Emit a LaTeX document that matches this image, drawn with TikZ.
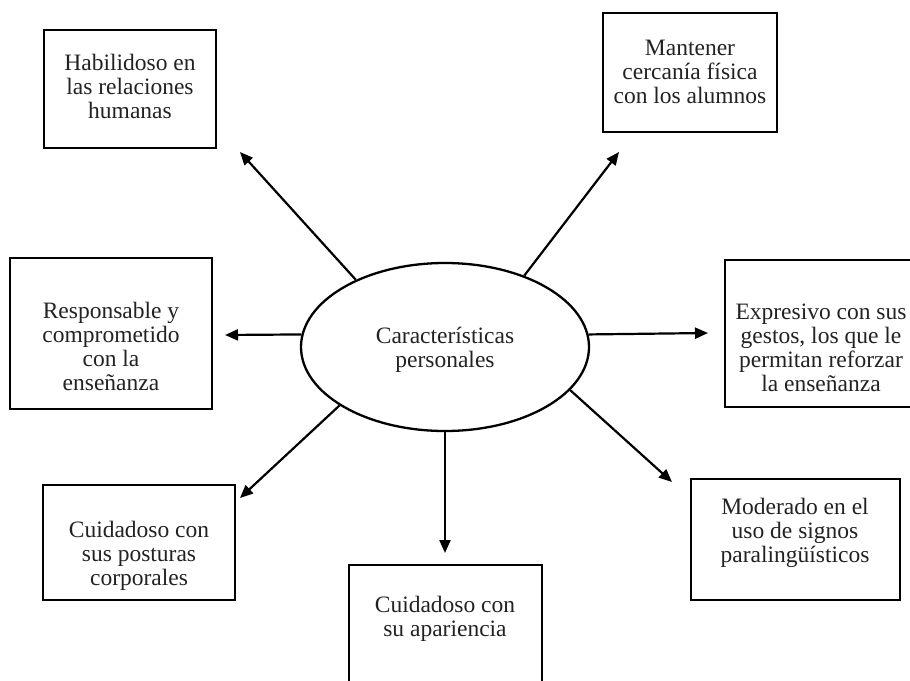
\documentclass[tikz,border=0pt]{standalone}
\usepackage{fontspec}
\setmainfont{Liberation Serif}
\usetikzlibrary{arrows.meta,shapes.geometric}

\definecolor{inkgray}{HTML}{222222}

\tikzset{
  boxed/.style={draw, line width=2.6pt, inner sep=0pt},
  label text/.style={align=center, inner sep=0pt, text=inkgray,
    font=\fontsize{23.5}{24}\selectfont},
  spoke/.style={line width=2.2pt, -{Triangle[length=13pt,width=11pt]}},
}

\begin{document}
\begin{tikzpicture}[x=1pt,y=-1pt]
\useasboundingbox (0,0) rectangle (910,680);

% central ellipse
\node[draw, ellipse, line width=2.3pt, minimum width=288pt, minimum height=168pt,
      inner sep=0pt] (ell) at (445,347) {};
\node[label text] (tc) at (445,350) {Características\\personales};

% surrounding boxes
\node[boxed, minimum width=172pt, minimum height=118pt] (b1) at (130,89) {};
\node[label text] (t1) at (130,86) {Habilidoso en\\las relaciones\\humanas};

\node[boxed, minimum width=174pt, minimum height=119pt] (b2) at (690,72.5) {};
\node[label text] (t2) at (690,72) {Mantener\\cercanía física\\con los alumnos};

\node[boxed, minimum width=190pt, minimum height=147pt] (b3) at (820,333.5) {};
\node[label text] (t3) at (821,348) {Expresivo con sus\\gestos, los que le\\permitan reforzar\\la enseñanza};

\node[boxed, minimum width=202pt, minimum height=151pt] (b4) at (111,333.5) {};
\node[label text] (t4) at (111,346) {Responsable y\\comprometido\\con la\\enseñanza};

\node[boxed, minimum width=192pt, minimum height=115pt] (b5) at (139,542.5) {};
\node[label text] (t5) at (139,556) {Cuidadoso con\\sus posturas\\corporales};

\node[boxed, minimum width=193pt, minimum height=130pt] (b6) at (445.5,630) {};
\node[label text] (t6) at (445,619) {Cuidadoso con\\su apariencia};

\node[boxed, minimum width=209pt, minimum height=121pt] (b7) at (795.5,539.5) {};
\node[label text] (t7) at (795,533) {Moderado en el\\uso de signos\\paralingüísticos};

% arrow tips, just short of each box
\coordinate (p1) at (240,152);
\coordinate (p2) at (619,152);
\coordinate (p3) at (708,333);
\coordinate (p4) at (225,335);
\coordinate (p5) at (240,498);
\coordinate (p6) at (445,553);
\coordinate (p7) at (672,482);

% spokes from the ellipse
\draw[spoke] (ell.143.6) -- (p1);
\draw[spoke] (ell.42.3) -- (p2);
\draw[spoke] (ell.5.6) -- (p3);
\draw[spoke] (ell.175.3) -- (p4);
\draw[spoke] (ell.209.7) -- (p5);
\draw[spoke] (ell.south) -- (p6);
\draw[spoke] (ell.341) -- (p7);
\end{tikzpicture}
\end{document}
